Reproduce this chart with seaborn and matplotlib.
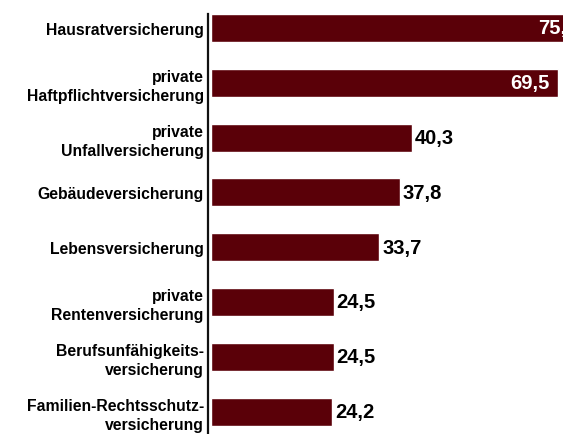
import matplotlib
matplotlib.use("Agg")
import matplotlib.pyplot as plt
import seaborn as sns
import pandas as pd

categories = [
    "Hausratversicherung",
    "private\nHaftpflichtversicherung",
    "private\nUnfallversicherung",
    "Gebäudeversicherung",
    "Lebensversicherung",
    "private\nRentenversicherung",
    "Berufsunfähigkeits-\nversicherung",
    "Familien-Rechtsschutz-\nversicherung",
]
values = [75.2, 69.5, 40.3, 37.8, 33.7, 24.5, 24.5, 24.2]

sns.set_theme(style="white")
plt.rcParams["font.family"] = ["Liberation Sans", "DejaVu Sans"]

BAR = "#5a0008"

df = pd.DataFrame({"category": categories, "value": values})

fig = plt.figure(figsize=(5.63, 4.35), dpi=100)
ax = fig.add_axes([208 / 563, 0, 402 / 563, 420 / 435])
sns.barplot(data=df, x="value", y="category", color=BAR, saturation=1,
            width=0.51, ax=ax)

ax.set_xlim(-0.7, 80)
ax.set_ylim(7.41, -0.255)
for s in ["top", "right", "bottom"]:
    ax.spines[s].set_visible(False)
ax.spines["left"].set_color("#111111")
ax.spines["left"].set_linewidth(1.6)
ax.set_xticks([])
ax.set_xlabel("")
ax.set_ylabel("")
ax.tick_params(axis="y", length=0, pad=3, labelsize=11.3, colors="black")
for lbl in ax.get_yticklabels():
    lbl.set_fontweight("heavy")
    lbl.set_linespacing(1.3)

for i, v in enumerate(values):
    txt = f"{v:.1f}".replace(".", ",")
    if v > 50:
        ax.annotate(txt, (v, i), xytext=(-6, 0), textcoords="offset points",
                    ha="right", va="center", color="white", fontsize=14.5,
                    fontweight="heavy", annotation_clip=False)
    else:
        ax.annotate(txt, (v, i), xytext=(2, 0), textcoords="offset points",
                    ha="left", va="center", color="black", fontsize=14.5,
                    fontweight="heavy")

fig.savefig("out.png", dpi=100)
